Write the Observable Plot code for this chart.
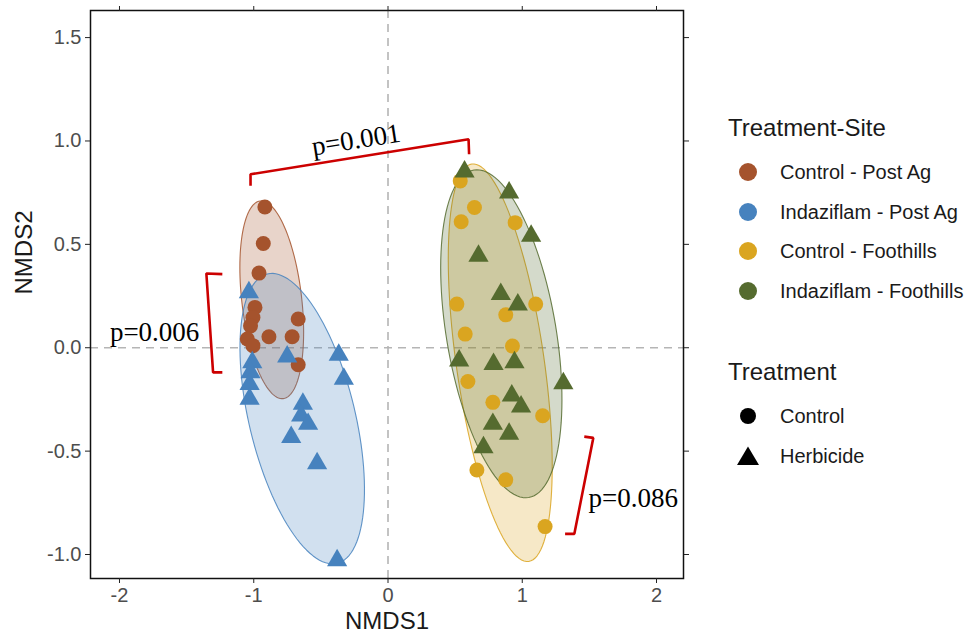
<!DOCTYPE html>
<html>
<head>
<meta charset="utf-8">
<script src="https://cdn.jsdelivr.net/npm/d3@7"></script>
<script src="https://cdn.jsdelivr.net/npm/@observablehq/plot@0.6"></script>
<style>
  body { margin: 0; background: #fff; }
  #wrap { position: relative; width: 968px; height: 638px; font-family: "Liberation Sans", Arial, sans-serif; color: #1a1a1a; }
  #chart { position: absolute; left: 0; top: 0; }
  .lg-title { position: absolute; left: 728px; font-size: 24px; line-height: 30px; height: 30px; white-space: nowrap; }
  .lg-row { position: absolute; left: 735px; height: 26px; display: flex; align-items: center; white-space: nowrap; font-size: 20px; }
  .lg-row svg { width: 26px; height: 26px; flex: none; }
  .lg-row span { margin-left: 19px; }
</style>
</head>
<body>
<div id="wrap">
  <div id="chart"></div>
  <div id="legend"></div>
</div>
<script>
// Groups (treatment x site) and their colours
const siteGroups = ["Control - Post Ag", "Indaziflam - Post Ag", "Control - Foothills", "Indaziflam - Foothills"];
const siteColors = ["#A5532D", "#4682BE", "#DAA520", "#556B2F"];
const groupTreatment = ["Control", "Herbicide", "Control", "Herbicide"];
const treatments = ["Control", "Herbicide"];
const treatmentSymbols = ["circle", "triangle"];

// NMDS site scores per group
const controlPostAgX = [-0.917, -0.929, -0.961, -0.991, -1.006, -1.024, -1.048, -1.006, -0.887, -0.714, -0.669, -0.669];
const controlPostAgY = [0.681, 0.504, 0.361, 0.195, 0.146, 0.106, 0.042, 0.010, 0.053, 0.053, 0.139, -0.082];
const indazPostAgX = [-1.036, -1.011, -1.024, -1.031, -1.031, -0.751, -0.367, -0.329, -0.634, -0.647, -0.595, -0.721, -0.528, -0.379];
const indazPostAgY = [0.267, -0.071, -0.119, -0.176, -0.248, -0.043, -0.035, -0.151, -0.272, -0.329, -0.369, -0.433, -0.559, -1.029];
const controlFoothillsX = [0.538, 0.644, 0.545, 0.947, 0.513, 0.877, 1.100, 0.575, 0.927, 0.595, 0.781, 1.152, 0.662, 0.877, 1.170];
const controlFoothillsY = [0.807, 0.678, 0.609, 0.605, 0.211, 0.159, 0.211, 0.066, 0.008, -0.163, -0.264, -0.329, -0.591, -0.639, -0.865];
const indazFoothillsX = [0.570, 0.902, 1.066, 0.674, 0.840, 0.967, 0.530, 0.786, 0.942, 1.306, 0.922, 0.991, 0.781, 0.902, 0.711];
const indazFoothillsY = [0.852, 0.750, 0.541, 0.444, 0.259, 0.208, -0.063, -0.079, -0.071, -0.172, -0.232, -0.285, -0.369, -0.417, -0.482];

// 95% ellipses: centre and two conjugate semi-axis vectors (NMDS units)
const ellipseCX = [-0.866, -0.639, 0.836, 0.844];
const ellipseCY = [0.232, -0.343, -0.0725, 0.0676];
const ellipseAX = [-0.0855, 0.260, 0.212, 0.204];
const ellipseAY = [0.478, -0.700, -0.961, -0.792];
const ellipseBX = [0.2216, 0.384, 0.324, 0.403];
const ellipseBY = [0.0167, 0.0601, 0.0301, 0.044];

// Pairwise PERMANOVA brackets and p-values
const bracketTopX = [-1.024, -1.024, 0.600, 0.604];
const bracketTopY = [0.783, 0.839, 1.008, 0.936];
const bracketLeftX = [-1.234, -1.353, -1.303, -1.234];
const bracketLeftY = [0.356, 0.359, -0.119, -0.119];
const bracketRightX = [1.462, 1.529, 1.388, 1.319];
const bracketRightY = [-0.430, -0.436, -0.900, -0.900];
const pLabels = ["p=0.001", "p=0.006", "p=0.086"];
const pLabelX = [-0.238, -1.405, 1.494];
const pLabelY = [1.005, 0.072, -0.73];
const pLabelAnchor = ["middle", "end", "start"];
const pLabelRotate = [-9, 0, 0];

// Axis ticks
const xTicks = [-2, -1, 0, 1, 2];
const yTicks = [-1.0, -0.5, 0.0, 0.5, 1.0, 1.5];

const groupXs = [controlPostAgX, indazPostAgX, controlFoothillsX, indazFoothillsX];
const groupYs = [controlPostAgY, indazPostAgY, controlFoothillsY, indazFoothillsY];

const points = [];
siteGroups.forEach((g, i) => {
  groupXs[i].forEach((x, j) => points.push({group: g, treatment: groupTreatment[i], x, y: groupYs[i][j]}));
});

// Outline of each ellipse from its centre and semi-axes
const ellipses = siteGroups.map((g, i) => d3.range(0, 120).map(k => {
  const t = 2 * Math.PI * k / 120;
  return {
    x: ellipseCX[i] + ellipseAX[i] * Math.cos(t) + ellipseBX[i] * Math.sin(t),
    y: ellipseCY[i] + ellipseAY[i] * Math.cos(t) + ellipseBY[i] * Math.sin(t)
  };
}));

const toPts = (xs, ys) => xs.map((x, i) => ({x, y: ys[i]}));
const brackets = [toPts(bracketTopX, bracketTopY), toPts(bracketLeftX, bracketLeftY), toPts(bracketRightX, bracketRightY)];
const pTable = pLabels.map((t, i) => ({t, x: pLabelX[i], y: pLabelY[i], anchor: pLabelAnchor[i], rot: pLabelRotate[i]}));

// Tick labels with a plain hyphen for negatives
const fmtY = d => d.toFixed(1);
const fmtX = d => String(d);

const chart = Plot.plot({
  width: 968,
  height: 638,
  marginLeft: 90,
  marginRight: 285,
  marginTop: 10,
  marginBottom: 60,
  style: {fontFamily: "'Liberation Sans', Arial, sans-serif", background: "#fff"},
  x: {domain: [-2.216, 2.201]},
  y: {domain: [-1.116, 1.631]},
  color: {domain: siteGroups, range: siteColors},
  symbol: {domain: treatments, range: treatmentSymbols},
  marks: [
    Plot.ruleX([0], {stroke: "#b5b5b5", strokeWidth: 1.6, strokeDasharray: "8,6"}),
    Plot.ruleY([0], {stroke: "#b5b5b5", strokeWidth: 1.6, strokeDasharray: "8,6"}),
    ...ellipses.map((e, i) => Plot.line(e, {
      x: "x", y: "y", curve: "linear-closed",
      fill: siteColors[i], fillOpacity: 0.25,
      stroke: siteColors[i], strokeWidth: 1.1, strokeOpacity: 0.85
    })),
    Plot.dot(points, {x: "x", y: "y", fill: "group", symbol: "treatment", r: 7.5, stroke: "none"}),
    ...brackets.map(b => Plot.line(b, {x: "x", y: "y", stroke: "#CC0000", strokeWidth: 2.6, strokeLinejoin: "miter", strokeLinecap: "butt"})),
    ...pTable.map(p => Plot.text([p], {
      x: "x", y: "y", text: "t", textAnchor: p.anchor, rotate: p.rot,
      fontFamily: "'Liberation Serif', 'Times New Roman', serif", fontSize: 27, fill: "#000", lineAnchor: "middle"
    })),
    Plot.frame({stroke: "#111", strokeWidth: 1.5}),
    Plot.axisX({anchor: "bottom", ticks: xTicks, tickFormat: fmtX, tickSize: 5, tickPadding: 4,
      fontSize: 20, stroke: "#222", fill: "#4d4d4d", label: null}),
    Plot.axisX({anchor: "top", ticks: xTicks, tickFormat: () => "", tickSize: 5, stroke: "#222", label: null}),
    Plot.axisY({anchor: "left", ticks: yTicks, tickFormat: fmtY, tickSize: 5, tickPadding: 4,
      fontSize: 20, stroke: "#222", fill: "#4d4d4d", label: null}),
    Plot.axisY({anchor: "right", ticks: yTicks, tickFormat: () => "", tickSize: 5, stroke: "#222", label: null}),
    Plot.text(["NMDS1"], {frameAnchor: "bottom", dy: 43, lineAnchor: "middle", fontSize: 24, fill: "#1a1a1a"}),
    Plot.text(["NMDS2"], {frameAnchor: "left", dx: -66, rotate: -90, lineAnchor: "middle", fontSize: 24, fill: "#1a1a1a"})
  ]
});
document.getElementById("chart").appendChild(chart);

// Legend
const legend = document.getElementById("legend");
const addTitle = (text, cy) => {
  const d = document.createElement("div");
  d.className = "lg-title";
  d.style.top = (cy - 15) + "px";
  d.textContent = text;
  legend.appendChild(d);
};
const addRow = (label, cy, swatch) => {
  const d = document.createElement("div");
  d.className = "lg-row";
  d.style.top = (cy - 13) + "px";
  d.innerHTML = `<svg viewBox="-13 -13 26 26">${swatch}</svg><span></span>`;
  d.querySelector("span").textContent = label;
  legend.appendChild(d);
};
addTitle("Treatment-Site", 128);
const rowY = [172, 212, 251, 291];
siteGroups.forEach((g, i) => addRow(g, rowY[i], `<circle r="9" fill="${siteColors[i]}"/>`));
addTitle("Treatment", 372);
addRow(treatments[0], 416, `<circle r="8" fill="#000"/>`);
addRow(treatments[1], 456, `<path d="M0,-9.5L11,9L-11,9Z" fill="#000"/>`);
</script>
</body>
</html>
